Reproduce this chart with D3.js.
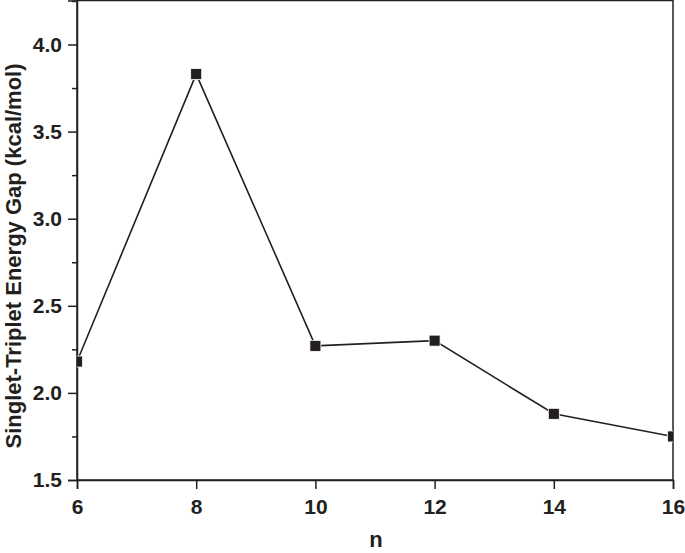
<!DOCTYPE html>
<html><head><meta charset="utf-8">
<script src="https://cdn.jsdelivr.net/npm/d3@7"></script>
<style>body{margin:0;background:#fff}svg{display:block}text{font-family:"Liberation Sans",Arial,sans-serif;font-weight:bold;fill:#231f20}</style>
</head><body><svg id="c" width="685" height="553"></svg>
<script>
const nValues = [6, 8, 10, 12, 14, 16];
const gapValues = [2.18, 3.83, 2.27, 2.30, 1.88, 1.75];
const xTicks = [6, 8, 10, 12, 14, 16];
const yTicks = [1.5, 2.0, 2.5, 3.0, 3.5, 4.0];
const yMinor = [1.75, 2.25, 2.75, 3.25, 3.75, 4.25];
const xLabel = "n";
const yLabel = "Singlet-Triplet Energy Gap (kcal/mol)";

const col = "#231f20";
const m = {l: 77, r: 12, t: 0.5, b: 73};
const W = 685, H = 553;
const svg = d3.select("#c");
const x = d3.scaleLinear().domain([6, 16]).range([m.l, W - m.r]);
const y = d3.scaleLinear().domain([1.5, 4.2525]).range([H - m.b, m.t]);

svg.append("defs").append("clipPath").attr("id", "clip")
  .append("rect").attr("x", m.l).attr("y", m.t).attr("width", W - m.r - m.l).attr("height", H - m.b - m.t);

svg.append("g").attr("transform", `translate(0,${H - m.b})`)
  .call(d3.axisBottom(x).tickValues(xTicks).tickFormat(d3.format("d")).tickSize(9).tickPadding(10));
svg.append("g").attr("transform", `translate(${m.l},0)`)
  .call(d3.axisLeft(y).tickValues(yTicks).tickFormat(d3.format(".1f")).tickSize(9).tickPadding(6));
svg.append("g").attr("transform", `translate(${m.l},0)`)
  .call(d3.axisLeft(y).tickValues(yMinor).tickFormat("").tickSize(5))
  .select(".domain").remove();

svg.selectAll(".domain").attr("stroke", col).attr("stroke-width", 1.5);
svg.selectAll(".tick line").attr("stroke", col).attr("stroke-width", 1.5);
svg.selectAll(".tick text").style("font-size", "21px").attr("fill", col);

// frame
svg.append("rect").attr("x", m.l).attr("y", m.t).attr("width", W - m.r - m.l).attr("height", H - m.b - m.t)
  .attr("fill", "none").attr("stroke", col).attr("stroke-width", 1.5);

const data = nValues.map((n, i) => ({n, v: gapValues[i]}));
const g = svg.append("g").attr("clip-path", "url(#clip)");
g.append("path").datum(data)
  .attr("d", d3.line().x(d => x(d.n)).y(d => y(d.v)))
  .attr("fill", "none").attr("stroke", col).attr("stroke-width", 1.6);
const s = 11;
g.selectAll("rect.pt").data(data).enter().append("rect").attr("class", "pt")
  .attr("x", d => x(d.n) - s / 2).attr("y", d => y(d.v) - s / 2)
  .attr("width", s).attr("height", s).attr("fill", col)
  .attr("stroke", "#fff").attr("stroke-width", 0.8);

svg.append("text").attr("x", 376).attr("y", 547)
  .attr("text-anchor", "middle").style("font-size", "22px").text(xLabel);
svg.append("text").attr("transform", `translate(21,256) rotate(-90)`)
  .attr("text-anchor", "middle").style("font-size", "22px").text(yLabel);
</script></body></html>
